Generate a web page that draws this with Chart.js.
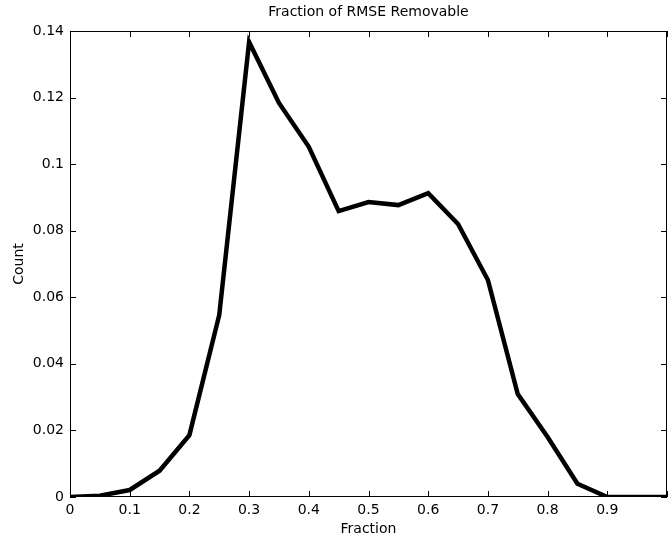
<!DOCTYPE html>
<html>
<head>
<meta charset="utf-8">
<script src="https://cdn.jsdelivr.net/npm/chart.js@4/dist/chart.umd.min.js"></script>
<style>
  html, body { margin: 0; padding: 0; background: #fff; overflow: hidden; }
  #wrap { position: relative; width: 672px; height: 538px; }
</style>
</head>
<body>
<div id="wrap"><canvas id="c"></canvas></div>
<script>
const chartTitle = 'Fraction of RMSE Removable';
const xTitle = 'Fraction';
const yTitle = 'Count';
const fraction = [0, 0.05, 0.1, 0.15, 0.2, 0.25, 0.3, 0.35, 0.4, 0.45, 0.5, 0.55, 0.6, 0.65, 0.7, 0.75, 0.8, 0.85, 0.9, 0.95, 1.0];
const count = [0, 0.0004, 0.0021, 0.0079, 0.0186, 0.0547, 0.1367, 0.1184, 0.1052, 0.0859, 0.0886, 0.0877, 0.0913, 0.0820, 0.0652, 0.0309, 0.0180, 0.0040, 0, 0, 0];
const xTicks = [0, 0.1, 0.2, 0.3, 0.4, 0.5, 0.6, 0.7, 0.8, 0.9, 1.0];
const yTicks = [0, 0.02, 0.04, 0.06, 0.08, 0.1, 0.12, 0.14];

const FONT = { family: "'DejaVu Sans', 'Liberation Sans', Arial, sans-serif", size: 14 };

const framePlugin = {
  id: 'frame',
  afterDraw(chart) {
    const { ctx, chartArea: a, scales } = chart;
    ctx.save();
    ctx.strokeStyle = '#000';
    ctx.lineWidth = 1;
    ctx.strokeRect(a.left + 0.5, a.top + 0.5, a.right - a.left - 1, a.bottom - a.top - 1);
    const L = 6;
    ctx.beginPath();
    scales.x.ticks.forEach(t => {
      const px = Math.round(scales.x.getPixelForValue(t.value)) + 0.5;
      ctx.moveTo(px, a.bottom); ctx.lineTo(px, a.bottom - L);
      ctx.moveTo(px, a.top); ctx.lineTo(px, a.top + L);
    });
    scales.y.ticks.forEach(t => {
      const py = Math.round(scales.y.getPixelForValue(t.value)) + 0.5;
      ctx.moveTo(a.left, py); ctx.lineTo(a.left + L, py);
      ctx.moveTo(a.right, py); ctx.lineTo(a.right - L, py);
    });
    ctx.stroke();
    ctx.fillStyle = '#000';
    ctx.font = FONT.size + 'px ' + FONT.family;
    ctx.textAlign = 'center';
    ctx.textBaseline = 'middle';
    ctx.fillText(chartTitle, (a.left + a.right) / 2, 12);
    ctx.restore();
  }
};

new Chart(document.getElementById('c'), {
  type: 'line',
  data: {
    datasets: [{
      data: fraction.map((f, i) => ({ x: f, y: count[i] })),
      borderColor: '#000',
      borderWidth: 4.5,
      pointRadius: 0,
      tension: 0,
      fill: false,
      borderJoinStyle: 'miter'
    }]
  },
  options: {
    responsive: true,
    maintainAspectRatio: false,
    animation: false,
    layout: { padding: { top: 31, right: 2, left: 0, bottom: 0 } },
    plugins: { legend: { display: false }, tooltip: { enabled: false }, title: { display: false } },
    scales: {
      x: {
        type: 'linear', min: 0, max: 1,
        afterBuildTicks: s => { s.ticks = xTicks.map(v => ({ value: v })); },
        afterFit: s => { s.height = 41; },
        grid: { display: false, drawTicks: false },
        border: { display: false },
        ticks: {
          color: '#000', font: FONT, padding: 5, maxRotation: 0, autoSkip: false,
          callback: v => (v >= 0.999 ? '' : String(Number(v.toFixed(2))))
        },
        title: { display: true, text: xTitle, color: '#000', font: FONT, padding: { top: 0, bottom: 0 } }
      },
      y: {
        type: 'linear', min: 0, max: 0.14,
        afterBuildTicks: s => { s.ticks = yTicks.map(v => ({ value: v })); },
        afterFit: s => { s.width = 70; },
        grid: { display: false, drawTicks: false },
        border: { display: false },
        ticks: {
          color: '#000', font: FONT, padding: 6, autoSkip: false,
          callback: v => String(Number(v.toFixed(2)))
        },
        title: { display: true, text: yTitle, color: '#000', font: FONT, padding: { top: 11, bottom: 0 } }
      }
    }
  },
  plugins: [framePlugin]
});
</script>
</body>
</html>
